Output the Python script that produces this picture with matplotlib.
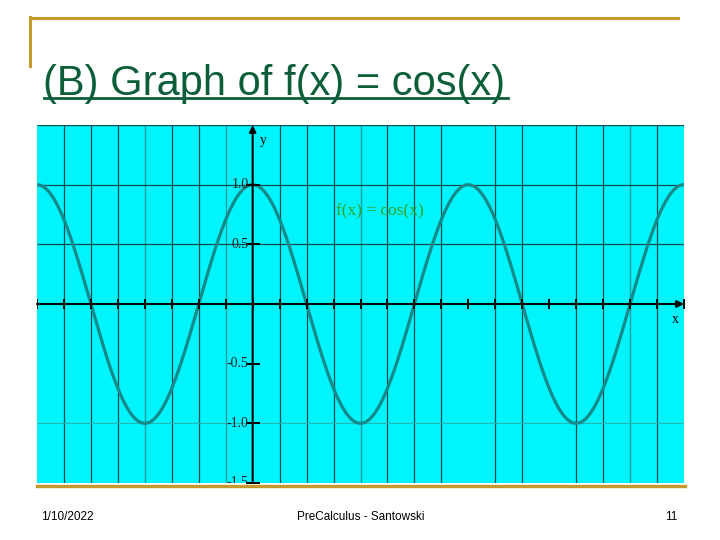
import numpy as np
import matplotlib
matplotlib.use('Agg')
import matplotlib.pyplot as plt
from matplotlib.lines import Line2D

# data / ranges of the graph
x_range = [-2 * np.pi, 4 * np.pi]
y_range = [-1.5, 1.5]
x_ticks = np.arange(-8, 17) * np.pi / 4          # tick marks every pi/4
y_ticks = [1.0, 0.5, -0.5, -1.0, -1.5]
y_tick_labels = ['1.0', '0.5', '-0.5', '-1.0', '-1.5']

# grid lines as they show up in the picture (some dark, some faint)
grid_x_dark = np.array([-7, -6, -5, -3, -2, 1, 2, 3, 5, 6, 7, 9, 10, 12, 13, 15]) * np.pi / 4
grid_x_light = np.array([-4, -1, 4, 14]) * np.pi / 4
grid_y_dark = [1.5, 1.0, 0.5]
grid_y_light = [-1.0]

title = '(B) Graph of f(x) = cos(x)'
curve_label = 'f(x) = cos(x)'
footer_left = '1/10/2022'
footer_mid = 'PreCalculus - Santowski'
footer_right = '11'

W, H = 720, 540
gold = '#c49a2c'
title_green = '#0b5e38'


def px(x, y):
    # pixel position on the slide -> figure fraction
    return x / W, 1 - y / H


fig = plt.figure(figsize=(7.2, 5.4), dpi=100)
fig.patch.set_facecolor('white')

# slide decoration
fig.add_artist(Line2D([30 / W, 678 / W], [1 - 18 / H] * 2, color=gold, lw=2.2))
fig.add_artist(Line2D([30 / W] * 2, [1 - 17 / H, 1 - 66 / H], color=gold, lw=2.2))
fig.add_artist(Line2D([37 / W, 685 / W], [1 - 486 / H] * 2, color=gold, lw=2.4))

fig.text(*px(43, 95), title, fontsize=30, color=title_green,
         family='Liberation Sans', ha='left', va='baseline')
fig.add_artist(Line2D([44 / W, 508 / W], [1 - 98.5 / H] * 2, color=title_green, lw=2.0))

fig.text(*px(41, 517), footer_left, fontsize=8.5, family='Liberation Sans',
         ha='left', va='center')
fig.text(*px(361, 517), footer_mid, fontsize=8.5, family='Liberation Sans',
         ha='center', va='center')
fig.text(*px(677, 517), footer_right, fontsize=8.5, family='Liberation Sans',
         ha='right', va='center')

# graph area
ax = fig.add_axes([37 / W, 1 - 483 / H, (684 - 37) / W, (483 - 125) / H])
ax.set_facecolor('#00f4fc')
ax.set_xlim(x_range)
ax.set_ylim(y_range)
for s in ax.spines.values():
    s.set_visible(False)
ax.set_xticks([])
ax.set_yticks([])

ax.vlines(grid_x_dark, y_range[0], y_range[1], color='#0c4c4c', lw=0.9, zorder=1)
ax.vlines(grid_x_light, y_range[0], y_range[1], color='#1f9e9e', lw=1.0, zorder=1)
ax.hlines(grid_y_dark, x_range[0], x_range[1], color='#0c4c4c', lw=0.9, zorder=1)
ax.hlines(grid_y_light, x_range[0], x_range[1], color='#2ab4b4', lw=0.8, zorder=1)

xs = np.linspace(x_range[0], x_range[1], 1200)
ax.plot(xs, np.cos(xs), color='#168a8a', lw=2.3, zorder=3)

# axes with arrows
ax.annotate('', xy=(x_range[1], 0), xytext=(x_range[0], 0),
            arrowprops=dict(arrowstyle='-|>', color='black', lw=1.5,
                            mutation_scale=10, shrinkA=0, shrinkB=0), zorder=4)
ax.annotate('', xy=(0, y_range[1]), xytext=(0, y_range[0]),
            arrowprops=dict(arrowstyle='-|>', color='black', lw=1.5,
                            mutation_scale=10, shrinkA=0, shrinkB=0), zorder=4)
ax.plot(x_ticks, np.zeros(len(x_ticks)), ls='none', marker='|', ms=7,
        mew=1.4, color='black', zorder=4)
ax.plot(np.zeros(len(y_ticks)), y_ticks, ls='none', marker='_', ms=10,
        mew=1.4, color='black', zorder=4)

for v, lab in zip(y_ticks, y_tick_labels):
    ax.text(-0.12, v, lab, fontsize=10, family='Liberation Serif', color='#222222',
            ha='right', va='center', clip_on=True, zorder=5)

ax.text(0.22, 1.37, 'y', fontsize=10, family='Liberation Serif', ha='left', va='center')
ax.text(x_range[1] - 0.15, -0.13, 'x', fontsize=10, family='Liberation Serif',
        ha='right', va='center')
ax.text(2.42, 0.78, curve_label, fontsize=12.5, family='Liberation Serif',
        color='#33a52a', ha='left', va='center', zorder=5)

fig.savefig('out.png', dpi=100)
